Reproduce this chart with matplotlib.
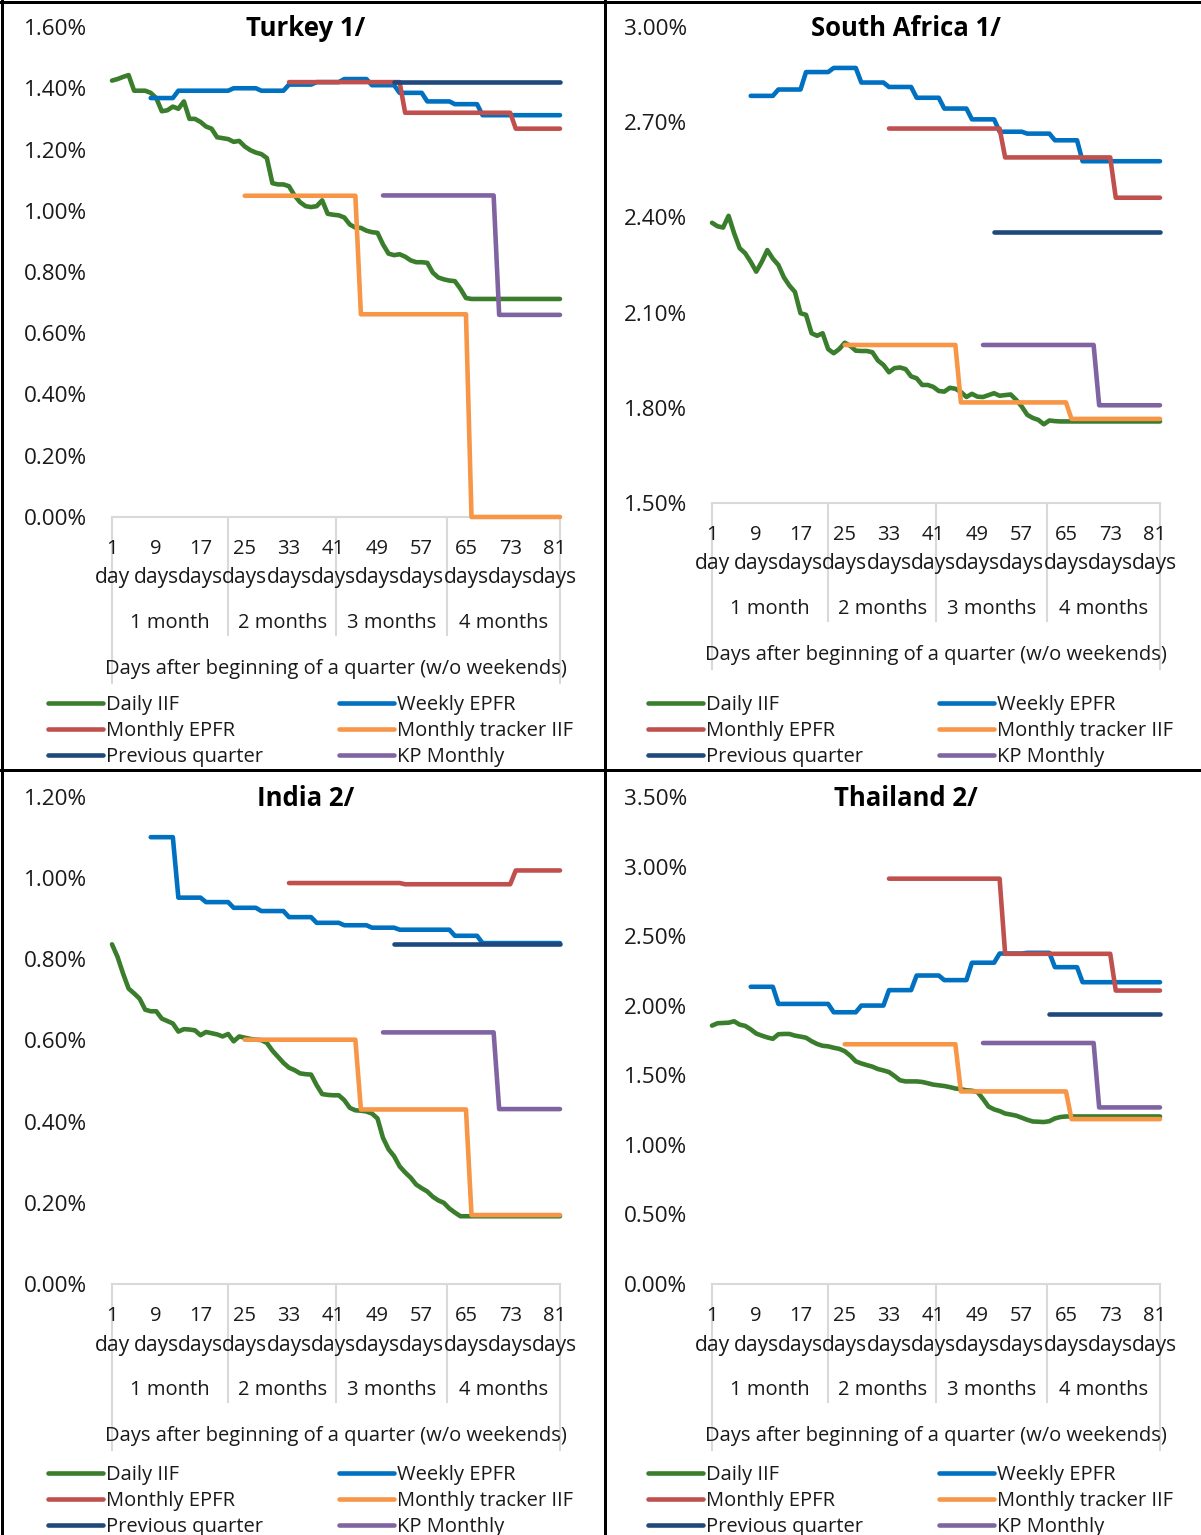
import numpy as np
import matplotlib.pyplot as plt
from matplotlib.lines import Line2D
from matplotlib.transforms import blended_transform_factory

plt.rcParams['font.family'] = ['Open Sans', 'DejaVu Sans']

W, H = 1201, 1535
TXT = '#1a1a1a'
GRID = '#d9d9d9'
FS = 14.5
LW = 3.3

# ---- data (percent) ----
n_days = 82
tick_days = [1, 9, 17, 25, 33, 41, 49, 57, 65, 73, 81]
month_labels = ['1 month', '2 months', '3 months', '4 months']
month_edges = [0, 21, 40.5, 60.5, 81]

series_names = ['Daily IIF', 'Weekly EPFR', 'Monthly EPFR',
                'Monthly tracker IIF', 'Previous quarter', 'KP Monthly']
series_colors = ['#3a7d2c', '#0070c0', '#c0504d', '#f79646', '#1f497d', '#8064a2']


def steps(start, values, lengths):
    out = [None] * start
    for v, n in zip(values, lengths):
        out += [v] * n
    return out


weekly_len = [5] * 15
monthly_len = [21, 20, 9]
tracker_len = [21, 20, 17]
kp_len = [21, 12]

turkey_daily = [1.425, 1.43, 1.437, 1.443, 1.392, 1.392, 1.392, 1.385, 1.368, 1.325,
                1.328, 1.34, 1.333, 1.357, 1.30, 1.30, 1.29, 1.275, 1.268, 1.24,
                1.237, 1.234, 1.225, 1.228, 1.21, 1.198, 1.19, 1.185, 1.172, 1.09,
                1.086, 1.086, 1.08, 1.05, 1.028, 1.015, 1.012, 1.015, 1.034, 0.99,
                0.987, 0.985, 0.978, 0.955, 0.945, 0.944, 0.935, 0.93, 0.928, 0.89,
                0.86, 0.855, 0.858, 0.85, 0.838, 0.832, 0.832, 0.83, 0.798, 0.782,
                0.776, 0.772, 0.77, 0.745, 0.715] + [0.712] * 17
turkey_weekly = [1.368, 1.392, 1.392, 1.40, 1.392, 1.412, 1.42, 1.43, 1.41, 1.385,
                 1.357, 1.348, 1.312, 1.312, 1.312]
turkey_monthly = [1.42, 1.32, 1.268]
turkey_tracker = [1.049, 0.662, 0.0]
turkey_prev = [1.422]
turkey_kp = [1.05, 0.66]

sa_daily = [2.383, 2.372, 2.368, 2.405, 2.35, 2.303, 2.287, 2.26, 2.229, 2.26,
            2.297, 2.27, 2.25, 2.211, 2.185, 2.165, 2.098, 2.093, 2.035, 2.027,
            2.035, 1.985, 1.972, 1.985, 2.005, 1.995, 1.98, 1.979, 1.979, 1.975,
            1.949, 1.935, 1.912, 1.925, 1.927, 1.922, 1.899, 1.893, 1.872, 1.872,
            1.866, 1.853, 1.851, 1.863, 1.86, 1.85, 1.834, 1.844, 1.835, 1.834,
            1.84, 1.846, 1.838, 1.84, 1.842, 1.825, 1.804, 1.778, 1.768, 1.762,
            1.748, 1.76, 1.758] + [1.757] * 19
sa_weekly = [2.783, 2.803, 2.858, 2.871, 2.825, 2.811, 2.777, 2.743, 2.709, 2.670,
             2.664, 2.643, 2.577, 2.577, 2.577]
sa_monthly = [2.68, 2.589, 2.462]
sa_tracker = [1.998, 1.817, 1.765]
sa_prev = [2.353]
sa_kp = [1.998, 1.808]

india_daily = [0.837, 0.806, 0.765, 0.728, 0.716, 0.703, 0.676, 0.672, 0.672, 0.654,
               0.648, 0.642, 0.622, 0.628, 0.627, 0.625, 0.613, 0.621, 0.618, 0.615,
               0.61, 0.616, 0.598, 0.61, 0.607, 0.604, 0.602, 0.601, 0.594, 0.575,
               0.56, 0.545, 0.533, 0.527, 0.519, 0.517, 0.516, 0.49, 0.468, 0.466,
               0.465, 0.465, 0.453, 0.434, 0.428, 0.427, 0.425, 0.42, 0.408, 0.36,
               0.332, 0.315, 0.29, 0.275, 0.262, 0.245, 0.236, 0.228, 0.215, 0.206,
               0.2, 0.186, 0.176, 0.167] + [0.167] * 18
india_weekly = [1.101, 0.952, 0.941, 0.927, 0.919, 0.904, 0.890, 0.884, 0.878, 0.873,
                0.873, 0.858, 0.840, 0.840, 0.840]
india_monthly = [0.988, 0.985, 1.019]
india_tracker = [0.602, 0.43, 0.17]
india_prev = [0.837]
india_kp = [0.62, 0.431]

thailand_daily = [1.857, 1.874, 1.876, 1.878, 1.888, 1.864, 1.855, 1.83, 1.8, 1.785,
                  1.772, 1.762, 1.795, 1.797, 1.797, 1.785, 1.778, 1.77, 1.745, 1.725,
                  1.712, 1.708, 1.698, 1.69, 1.673, 1.641, 1.6, 1.585, 1.573, 1.562,
                  1.545, 1.535, 1.523, 1.495, 1.464, 1.456, 1.456, 1.456, 1.452, 1.443,
                  1.433, 1.428, 1.423, 1.415, 1.405, 1.4, 1.392, 1.389, 1.38, 1.33,
                  1.275, 1.255, 1.243, 1.225, 1.218, 1.21, 1.195, 1.18, 1.168, 1.166,
                  1.164, 1.17, 1.19, 1.2] + [1.204] * 18
thailand_weekly = [2.136, 2.013, 2.013, 1.953, 2.001, 2.112, 2.217, 2.184, 2.309, 2.375,
                   2.38, 2.277, 2.169, 2.169, 2.169]
thailand_monthly = [2.913, 2.373, 2.109]
thailand_tracker = [1.723, 1.384, 1.185]
thailand_prev = [1.941]
thailand_kp = [1.732, 1.269]


def build(daily, weekly, monthly, tracker, prev, kp, prev_start):
    return [daily,
            steps(7, weekly, weekly_len),
            steps(32, monthly, monthly_len),
            steps(24, tracker, tracker_len),
            steps(prev_start, prev, [n_days - prev_start]),
            steps(49, kp, kp_len)]


fig = plt.figure(figsize=(W / 100, H / 100), dpi=100)


def pt(px):
    return px * 0.72


def panel(px, py, bottom, title, ylim, yticks, data):
    top = py + 27
    left = px + 112
    hpx = bottom - top
    ax = fig.add_axes([left / W, 1 - bottom / H, 448 / W, hpx / H])
    x = np.arange(n_days)
    for vals, c in zip(data, series_colors):
        ax.plot(x, np.array(vals, dtype=float), color=c, lw=LW, zorder=3,
                solid_capstyle='round', solid_joinstyle='round', clip_on=False)
    ax.set_xlim(0, n_days - 1)
    ax.set_ylim(*ylim)
    ax.set_yticks(yticks)
    ax.set_yticklabels([f'{v:.2f}%' for v in yticks])
    ax.tick_params(axis='y', length=0, pad=pt(25), labelsize=16.2, labelcolor=TXT)
    ax.set_xticks([])
    for s in ['top', 'right', 'left']:
        ax.spines[s].set_visible(False)
    ax.spines['bottom'].set_color(GRID)
    ax.spines['bottom'].set_linewidth(1.5)

    tr = blended_transform_factory(ax.transData, ax.transAxes)
    for i, e in enumerate(month_edges):
        depth = 166 if i in (0, len(month_edges) - 1) else 118
        ax.plot([e, e], [0, -depth / hpx], transform=tr, color=GRID, lw=1.5,
                clip_on=False)

    for d in tick_days:
        ax.annotate(str(d), xy=(d - 1, 0), xycoords=('data', 'axes fraction'),
                    xytext=(0, -pt(32)), textcoords='offset points',
                    ha='center', va='center', fontsize=FS, color=TXT)
        ax.annotate('day' if d == 1 else 'days', xy=(d - 1, 0),
                    xycoords=('data', 'axes fraction'),
                    xytext=(0, -pt(61)), textcoords='offset points',
                    ha='center', va='center', fontsize=FS + 0.6, color=TXT)
    for i, m in enumerate(month_labels):
        mid = (month_edges[i] + month_edges[i + 1]) / 2
        ax.annotate(m, xy=(mid, 0), xycoords=('data', 'axes fraction'),
                    xytext=(0, -pt(106)), textcoords='offset points',
                    ha='center', va='center', fontsize=FS, color=TXT)
    ax.annotate('Days after beginning of a quarter (w/o weekends)', xy=(0.5, 0),
                xycoords='axes fraction', xytext=(0, -pt(152)),
                textcoords='offset points', ha='center', va='center',
                fontsize=FS, color=TXT)

    fig.text((px + 306) / W, 1 - (py + 29) / H, title, ha='center', va='center',
             fontsize=18.5, fontweight='bold', color='black')

    handles = [Line2D([], [], color=c, lw=LW, solid_capstyle='round')
               for c in series_colors]
    order = [0, 2, 4, 1, 3, 5]
    ax.legend([handles[i] for i in order], [series_names[i] for i in order],
              ncol=2, loc='upper left',
              bbox_to_anchor=((px + 48) / W, 1 - (py + 695) / H),
              bbox_transform=fig.transFigure, frameon=False, borderpad=0,
              borderaxespad=0, handlelength=2.75, handletextpad=0.15,
              columnspacing=3.75, labelspacing=0.3, fontsize=FS,
              labelcolor=TXT)
    return ax


panel(0, 0, 517, 'Turkey 1/', (0, 1.6), [0, 0.2, 0.4, 0.6, 0.8, 1.0, 1.2, 1.4, 1.6],
      build(turkey_daily, turkey_weekly, turkey_monthly, turkey_tracker,
            turkey_prev, turkey_kp, 51))
panel(600, 0, 503, 'South Africa 1/', (1.5, 3.0), [1.5, 1.8, 2.1, 2.4, 2.7, 3.0],
      build(sa_daily, sa_weekly, sa_monthly, sa_tracker, sa_prev, sa_kp, 51))
panel(0, 770, 1284, 'India 2/', (0, 1.2), [0, 0.2, 0.4, 0.6, 0.8, 1.0, 1.2],
      build(india_daily, india_weekly, india_monthly, india_tracker,
            india_prev, india_kp, 51))
panel(600, 770, 1284, 'Thailand 2/', (0, 3.5), [0, 0.5, 1.0, 1.5, 2.0, 2.5, 3.0, 3.5],
      build(thailand_daily, thailand_weekly, thailand_monthly, thailand_tracker,
            thailand_prev, thailand_kp, 61))

# panel borders
bw = 3 * 0.72
fig.add_artist(Line2D([0, 1], [1 - 1.5 / H] * 2, transform=fig.transFigure, color='black', lw=bw))
fig.add_artist(Line2D([1.5 / W] * 2, [0, 1], transform=fig.transFigure, color='black', lw=bw))
fig.add_artist(Line2D([604.5 / W] * 2, [0, 1], transform=fig.transFigure, color='black', lw=bw))
fig.add_artist(Line2D([0, 1], [1 - 769.5 / H] * 2, transform=fig.transFigure, color='black', lw=bw))

fig.savefig('out.png', dpi=100)
